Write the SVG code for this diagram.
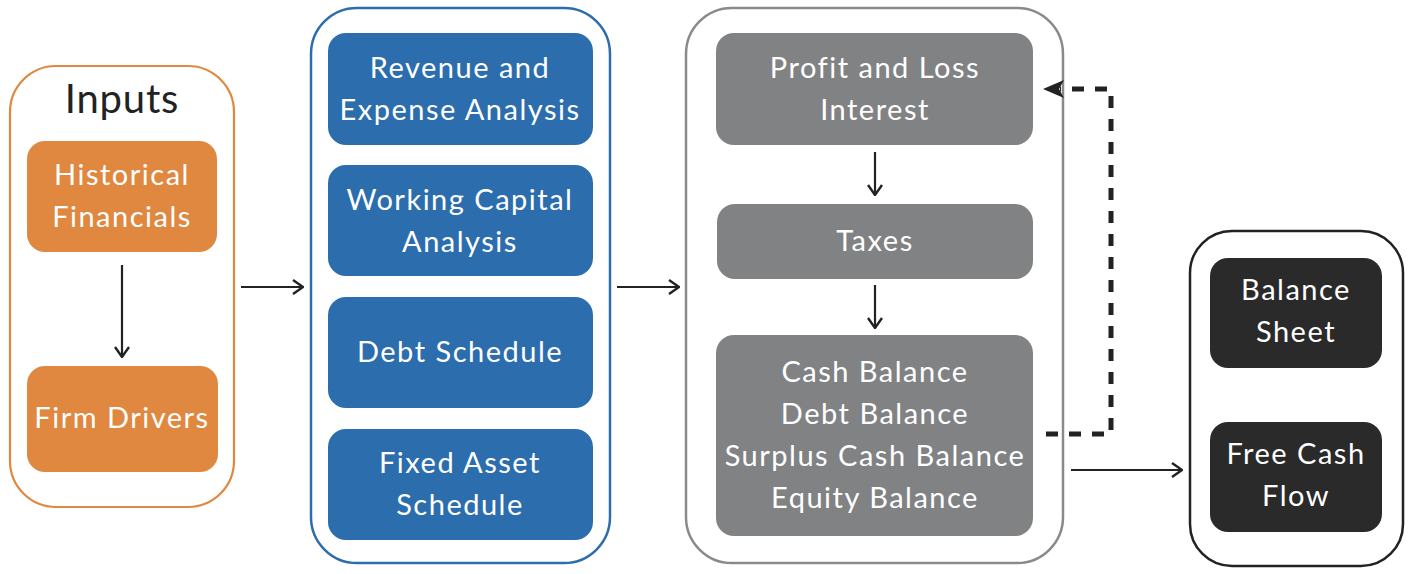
<svg xmlns="http://www.w3.org/2000/svg" width="1409" height="574" viewBox="0 0 1409 574">
<defs>
<style>
.t{font-family:Lato,"Open Sans","Liberation Sans",sans-serif;font-size:29px;fill:#ffffff;text-anchor:middle;letter-spacing:1.5px}
.h{font-family:Lato,"Open Sans","Liberation Sans",sans-serif;font-size:40px;fill:#222222;text-anchor:middle;letter-spacing:0.8px}
.con{fill:none;stroke:#222222;stroke-width:2.2}
.dash{fill:none;stroke:#222222;stroke-width:5;stroke-dasharray:12 11}
.or{fill:#E0883F}
.bl{fill:#2C6DAE}
.gr{fill:#818284}
.dk{fill:#2A2A2A}
</style>
<marker id="ah" markerUnits="userSpaceOnUse" viewBox="0 0 12 16" refX="11" refY="8" markerWidth="12" markerHeight="16" orient="auto">
<path d="M1,1 L11,8 L1,15" fill="none" stroke="#222222" stroke-width="2.4" stroke-linejoin="miter"/>
</marker>
</defs>
<rect width="1409" height="574" fill="#ffffff"/>

<g id="inputs">
<rect x="10" y="66" width="224" height="441" rx="46" fill="#ffffff" stroke="#E0883F" stroke-width="2.2"/>
<text class="h" x="122" y="113">Inputs</text>
</g>
<g id="historical">
<rect class="or" x="27" y="141" width="190" height="111" rx="18"/>
<text class="t" x="122" y="185">Historical</text>
<text class="t" x="122" y="227">Financials</text>
</g>
<g id="firm">
<rect class="or" x="27" y="366" width="191" height="106" rx="18"/>
<text class="t" x="122" y="428">Firm Drivers</text>
</g>

<g id="analysis">
<rect x="311" y="8" width="299" height="555" rx="46" fill="#ffffff" stroke="#2C6DAE" stroke-width="2.5"/>
</g>
<g id="revenue">
<rect class="bl" x="328" y="33" width="265" height="112" rx="18"/>
<text class="t" x="460" y="78">Revenue and</text>
<text class="t" x="460" y="120">Expense Analysis</text>
</g>
<g id="working">
<rect class="bl" x="328" y="165" width="265" height="111" rx="18"/>
<text class="t" x="460" y="210">Working Capital</text>
<text class="t" x="460" y="252">Analysis</text>
</g>
<g id="debt">
<rect class="bl" x="328" y="297" width="265" height="111" rx="18"/>
<text class="t" x="460" y="362">Debt Schedule</text>
</g>
<g id="fixed">
<rect class="bl" x="328" y="429" width="265" height="111" rx="18"/>
<text class="t" x="460" y="473">Fixed Asset</text>
<text class="t" x="460" y="515">Schedule</text>
</g>

<g id="statements">
<rect x="686" y="8" width="377" height="555" rx="46" fill="#ffffff" stroke="#8A8A8A" stroke-width="2.5"/>
</g>
<g id="pnl">
<rect class="gr" x="716" y="33" width="317" height="112" rx="18"/>
<text class="t" x="875" y="78">Profit and Loss</text>
<text class="t" x="875" y="120">Interest</text>
</g>
<g id="taxes">
<rect class="gr" x="717" y="204" width="316" height="75" rx="18"/>
<text class="t" x="875" y="251">Taxes</text>
</g>
<g id="balances">
<rect class="gr" x="716" y="335" width="317" height="201" rx="18"/>
<text class="t" x="875" y="382">Cash Balance</text>
<text class="t" x="875" y="424">Debt Balance</text>
<text class="t" x="875" y="466">Surplus Cash Balance</text>
<text class="t" x="875" y="508">Equity Balance</text>
</g>

<g id="outputs">
<rect x="1190" y="231" width="213" height="335" rx="42" fill="#ffffff" stroke="#222222" stroke-width="2.5"/>
</g>
<g id="balance-sheet">
<rect class="dk" x="1210" y="258" width="172" height="110" rx="18"/>
<text class="t" x="1296" y="300">Balance</text>
<text class="t" x="1296" y="342">Sheet</text>
</g>
<g id="fcf">
<rect class="dk" x="1210" y="422" width="172" height="110" rx="18"/>
<text class="t" x="1296" y="464">Free Cash</text>
<text class="t" x="1296" y="506">Flow</text>
</g>

<g id="connectors">
<line class="con" x1="122" y1="265" x2="122" y2="357" marker-end="url(#ah)"/>
<line class="con" x1="241" y1="287" x2="303" y2="287" marker-end="url(#ah)"/>
<line class="con" x1="617" y1="287" x2="679" y2="287" marker-end="url(#ah)"/>
<line class="con" x1="875" y1="152" x2="875" y2="195" marker-end="url(#ah)"/>
<line class="con" x1="875" y1="285" x2="875" y2="328" marker-end="url(#ah)"/>
<line class="con" x1="1071" y1="470" x2="1182" y2="470" marker-end="url(#ah)"/>
<path class="dash" d="M1046,434 H1111 V89 H1060"/>
<path d="M1043,89 L1064,80 L1059,89 L1064,98 Z" fill="#222222"/>
</g>
</svg>
